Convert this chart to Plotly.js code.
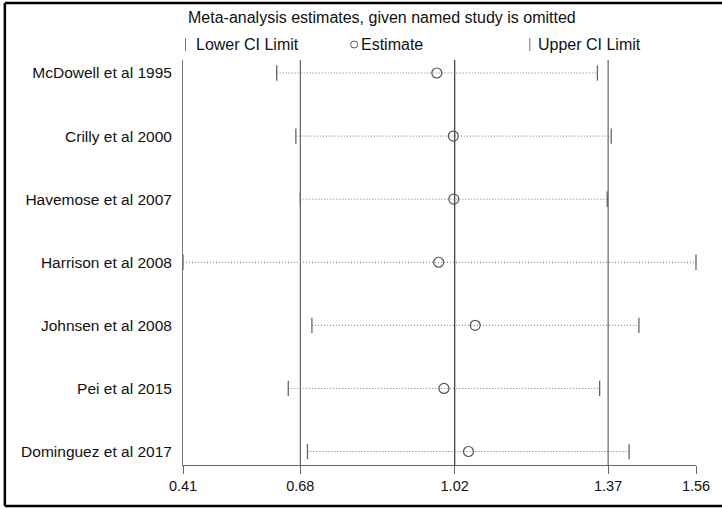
<!DOCTYPE html>
<html>
<head>
<meta charset="utf-8">
<script src="https://cdn.plot.ly/plotly-3.0.1.min.js"></script>
<style>html,body{margin:0;padding:0;background:#fff}#chart{width:722px;height:509px}</style>
</head>
<body>
<div id="chart"></div>
<script>
// Data
const studies = ["McDowell et al 1995","Crilly et al 2000","Havemose et al 2007","Harrison et al 2008","Johnsen et al 2008","Pei et al 2015","Dominguez et al 2017"];
const lowerCI = [0.620, 0.663, 0.673, 0.410, 0.699, 0.646, 0.689];
const estimate = [0.979, 1.016, 1.017, 0.983, 1.065, 0.995, 1.050];
const upperCI = [1.339, 1.370, 1.361, 1.560, 1.432, 1.344, 1.410];
// overall combined: lower, estimate, upper
const overall = [0.673, 1.019, 1.363];
const tickVals = [0.41, 0.673, 1.019, 1.363, 1.56];
const tickText = ["0.41", "0.68", "1.02", "1.37", "1.56"];

const FONT = '"Liberation Sans", Arial, Helvetica, sans-serif';
const idx = studies.map((_, i) => i);

const traces = [];
// dotted CI lines
studies.forEach((s, i) => {
  traces.push({
    type: 'scatter', mode: 'lines',
    x: [lowerCI[i], upperCI[i]], y: [i, i],
    line: {color: '#777', width: 1, dash: '1px,2px'},
    hoverinfo: 'skip', showlegend: false
  });
});
traces.push({
  type: 'scatter', mode: 'markers', x: lowerCI, y: idx,
  marker: {symbol: 'line-ns-open', size: 11, color: '#666', line: {color: '#666', width: 1.3}},
  showlegend: false, cliponaxis: false
});
traces.push({
  type: 'scatter', mode: 'markers', x: upperCI, y: idx,
  marker: {symbol: 'line-ns-open', size: 11, color: '#666', line: {color: '#666', width: 1.3}},
  showlegend: false, cliponaxis: false
});
traces.push({
  type: 'scatter', mode: 'markers', x: estimate, y: idx,
  marker: {symbol: 'circle-open', size: 10, color: '#555', line: {color: '#555', width: 1.2}},
  showlegend: false, cliponaxis: false
});

// geometry helpers (plot area in pixels: left 183, right 695.6, top 60, bottom 465)
const L = 183, R = 695.6, T = 60, B = 465;
const px = x => (x - L) / (R - L);
const py = y => (B - y) / (B - T);

const shapes = overall.map((v, k) => ({
  type: 'line', xref: 'x', yref: 'paper', x0: v, x1: v, y0: 0, y1: 1,
  line: {color: '#444', width: k === 1 ? 1.3 : 1}, layer: 'below'
}));
// frame (top, left, bottom)
shapes.push({type: 'line', xref: 'paper', yref: 'paper', x0: px(5), x1: px(740), y0: py(3), y1: py(3), line: {color: '#000', width: 2.5}});
shapes.push({type: 'line', xref: 'paper', yref: 'paper', x0: px(5), x1: px(5), y0: py(3), y1: py(506), line: {color: '#000', width: 2.5}});
shapes.push({type: 'line', xref: 'paper', yref: 'paper', x0: px(5), x1: px(740), y0: py(506), y1: py(506), line: {color: '#000', width: 2.5}});
// legend symbols
shapes.push({type: 'line', xref: 'paper', yref: 'paper', x0: px(185.5), x1: px(185.5), y0: py(38), y1: py(51), line: {color: '#777', width: 1}});
shapes.push({type: 'line', xref: 'paper', yref: 'paper', x0: px(529.5), x1: px(529.5), y0: py(38), y1: py(51), line: {color: '#777', width: 1}});
shapes.push({type: 'circle', xref: 'paper', yref: 'paper', xsizemode: 'pixel', ysizemode: 'pixel',
  xanchor: px(354), yanchor: py(44.5), x0: -3.5, x1: 3.5, y0: -3.5, y1: 3.5, line: {color: '#555', width: 1}});

const annotations = [
  {text: 'Meta-analysis estimates, given named study is omitted', x: px(186), y: py(17), xanchor: 'left', yanchor: 'middle', size: 16},
  {text: 'Lower CI Limit', x: px(194), y: py(44), xanchor: 'left', yanchor: 'middle', size: 16},
  {text: 'Estimate', x: px(359), y: py(44), xanchor: 'left', yanchor: 'middle', size: 16},
  {text: 'Upper CI Limit', x: px(536), y: py(44), xanchor: 'left', yanchor: 'middle', size: 16}
].map(a => {
  const s = a.size; delete a.size;
  return Object.assign({xref: 'paper', yref: 'paper', showarrow: false, font: {family: FONT, size: s, color: '#111'}}, a);
});

const layout = {
  width: 722, height: 509,
  margin: {l: L, r: 722 - R, t: T, b: 509 - B, pad: 0},
  paper_bgcolor: '#fff', plot_bgcolor: '#fff',
  font: {family: FONT, size: 14, color: '#111'},
  showlegend: false,
  xaxis: {
    range: [0.41, 1.56], tickvals: tickVals, ticktext: tickText,
    showgrid: false, zeroline: false, showline: true, linecolor: '#666', linewidth: 1,
    ticks: 'outside', ticklen: 8, tickcolor: '#666', tickwidth: 1,
    tickfont: {family: FONT, size: 14.5, color: '#111'}
  },
  yaxis: {
    range: [6.214, -0.206], tickvals: idx, ticktext: studies,
    showgrid: false, zeroline: false, showline: true, linecolor: '#777', linewidth: 1,
    ticks: '', ticklabelstandoff: 7,
    tickfont: {family: FONT, size: 15.5, color: '#111'}
  },
  shapes: shapes, annotations: annotations
};

Plotly.newPlot('chart', traces, layout, {displayModeBar: false, staticPlot: true});
</script>
</body>
</html>
